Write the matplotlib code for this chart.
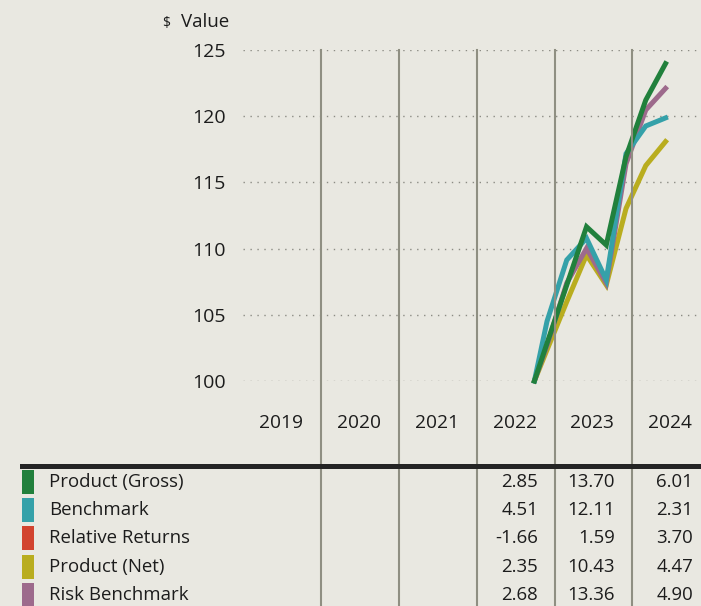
import matplotlib
matplotlib.use("Agg")
import matplotlib.pyplot as plt
from matplotlib.lines import Line2D
from matplotlib.patches import Rectangle

plt.rcParams['font.family'] = ['Open Sans', 'DejaVu Sans']

# ---------------- data ----------------
years = ["2019", "2020", "2021", "2022", "2023", "2024"]
dates = [2022.84, 2023.0, 2023.25, 2023.5, 2023.75, 2024.0, 2024.25, 2024.5]
product_gross = [100, 102.85, 107.25, 111.65, 110.27, 116.94, 121.22, 123.97]
benchmark = [100, 104.51, 109.14, 110.78, 107.63, 117.17, 119.26, 119.87]
product_net = [100, 102.35, 105.99, 109.52, 107.25, 113.03, 116.27, 118.08]
risk_benchmark = [100, 102.68, 107.40, 110.02, 107.40, 116.40, 120.47, 122.10]

y_ticks = [100, 105, 110, 115, 120, 125]

series_names = ["Product (Gross)", "Benchmark", "Relative Returns", "Product (Net)", "Risk Benchmark"]
series_colors = ["#21803c", "#35a1a9", "#d2432f", "#b9ad1f", "#9d6a8c"]
table_values = [
    ["", "", "", "2.85", "13.70", "6.01"],
    ["", "", "", "4.51", "12.11", "2.31"],
    ["", "", "", "-1.66", "1.59", "3.70"],
    ["", "", "", "2.35", "10.43", "4.47"],
    ["", "", "", "2.68", "13.36", "4.90"],
]

# ---------------- layout ----------------
W, H = 701, 606
BG = "#e9e8e1"
TXT = "#1c1c1c"
fig = plt.figure(figsize=(W / 100, H / 100), dpi=100, facecolor=BG)

def fx(px):
    return px / W

def fy(py):
    return 1 - py / H

# chart axes: px x 243..701, y 50 (125) .. 381 (100)
ax = fig.add_axes([fx(243), fy(381), fx(701) - fx(243), fy(50) - fy(381)])
ax.set_facecolor(BG)
ax.set_xlim(2019.152, 2024.949)
ax.set_ylim(100, 125)
for s in ax.spines.values():
    s.set_visible(False)
ax.set_xticks([])
ax.set_yticks(y_ticks)
ax.set_yticklabels([str(t) for t in y_ticks], fontsize=14, color=TXT)
ax.tick_params(axis="y", length=0, pad=12.5)
for t in y_ticks:
    ax.axhline(t, color="#8c8c84", lw=1.0, ls=(0, (1, 4)), zorder=1)

lw = 3.6
ax.plot(dates, product_net, color=series_colors[3], lw=lw, zorder=3, clip_on=False, solid_joinstyle="miter")
ax.plot(dates, risk_benchmark, color=series_colors[4], lw=lw, zorder=4, clip_on=False, solid_joinstyle="miter")
ax.plot(dates, benchmark, color=series_colors[1], lw=lw, zorder=5, clip_on=False, solid_joinstyle="miter")
ax.plot(dates, product_gross, color=series_colors[0], lw=lw, zorder=6, clip_on=False, solid_joinstyle="miter")

# "$ Value" label
fig.text(fx(162), fy(23), "$", fontsize=10, color=TXT, ha="left", va="center")
fig.text(fx(181), fy(22), "Value", fontsize=13.5, color=TXT, ha="left", va="center")

# column separators
seps = [321, 399, 477, 555, 632]
for sx in seps:
    fig.add_artist(Line2D([fx(sx), fx(sx)], [fy(50), fy(606)], transform=fig.transFigure,
                          color="#8f8f82", lw=1.5, zorder=2))

# year labels (right aligned in columns)
col_right = [303, 381, 459, 537, 614, 692]
for yr, xr in zip(years, col_right):
    fig.text(fx(xr), fy(423), yr, fontsize=13.8, color=TXT, ha="right", va="center")

# thick table rule
fig.add_artist(Line2D([fx(22), fx(701)], [fy(466), fy(466)], transform=fig.transFigure,
                      color="#242424", lw=3.6, zorder=3))

# table rows
row_y = [482, 510, 538, 567, 595]
for name, col, vals, ry in zip(series_names, series_colors, table_values, row_y):
    fig.add_artist(Rectangle((fx(22), fy(ry + 12)), fx(12), fy(ry - 12) - fy(ry + 12),
                             transform=fig.transFigure, facecolor=col, edgecolor="none"))
    fig.text(fx(49), fy(ry), name, fontsize=13.4, color=TXT, ha="left", va="center")
    for v, xr in zip(vals, col_right):
        if v:
            fig.text(fx(xr + 1), fy(ry), v, fontsize=13.4, color=TXT, ha="right", va="center")

fig.savefig("out.png", dpi=100, facecolor=BG)
